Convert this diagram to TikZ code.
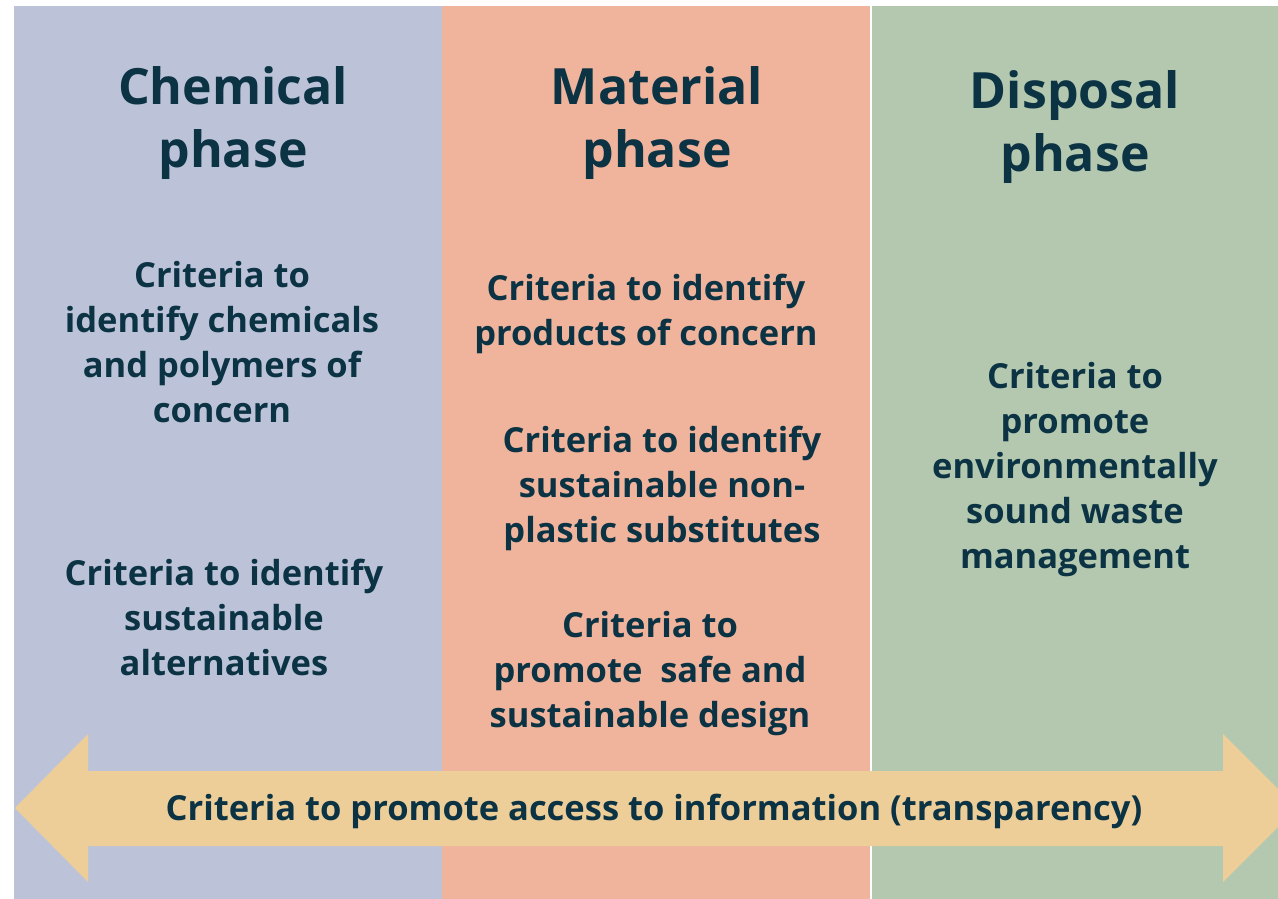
\documentclass[tikz,border=0pt]{standalone}
\usepackage{fontspec}
\setmainfont{Open Sans}
\definecolor{cblue}{HTML}{BCC3D8}
\definecolor{corange}{HTML}{F0B49C}
\definecolor{cgreen}{HTML}{B3C8AF}
\definecolor{carrow}{HTML}{EDCD98}
\definecolor{ctext}{HTML}{0B3344}
\tikzset{
  title/.style={align=center,font=\fontsize{50}{63}\selectfont\bfseries,text=ctext,inner sep=0pt},
  body/.style={align=center,font=\fontsize{34.5}{45}\selectfont\bfseries,text=ctext,inner sep=0pt},
}
\begin{document}
\begin{tikzpicture}[x=1pt,y=-1pt]
\useasboundingbox (0,0) rectangle (1278,899);
\fill[white] (0,0) rectangle (1278,899);
\fill[cblue] (14,6) rectangle (442,899);
\fill[corange] (442,6) rectangle (870,899);
\fill[cgreen] (872,6) rectangle (1278,899);
\node[title] (t1) at (233,123) {Chemical\\phase};
\node[title] (t2) at (657,123) {Material\\phase};
\node[title] (t3) at (1075,127) {Disposal\\phase};
\node[body] (b1) at (222,342) {Criteria to\\identify chemicals\\and polymers of\\concern};
\node[body] (b2) at (224,617) {Criteria to identify\\sustainable\\alternatives};
\node[body] (o1) at (646,314) {Criteria to identify\\products of concern};
\node[body] (o2) at (662,488) {Criteria to identify\\sustainable non-\\plastic substitutes};
\node[body] (o3) at (650,674) {Criteria to\\promote\ \ safe and\\sustainable design};
\node[body] (g1) at (1075,470) {Criteria to\\promote\\environmentally\\sound waste\\management};
\fill[carrow] (15,808) -- (88,734) -- (88,771) -- (1223,771) -- (1223,734) -- (1297,808) -- (1223,882) -- (1223,846) -- (88,846) -- (88,882) -- cycle;
\node[body] (a) at (654,811) {Criteria to promote access to information (transparency)};
\end{tikzpicture}
\end{document}
